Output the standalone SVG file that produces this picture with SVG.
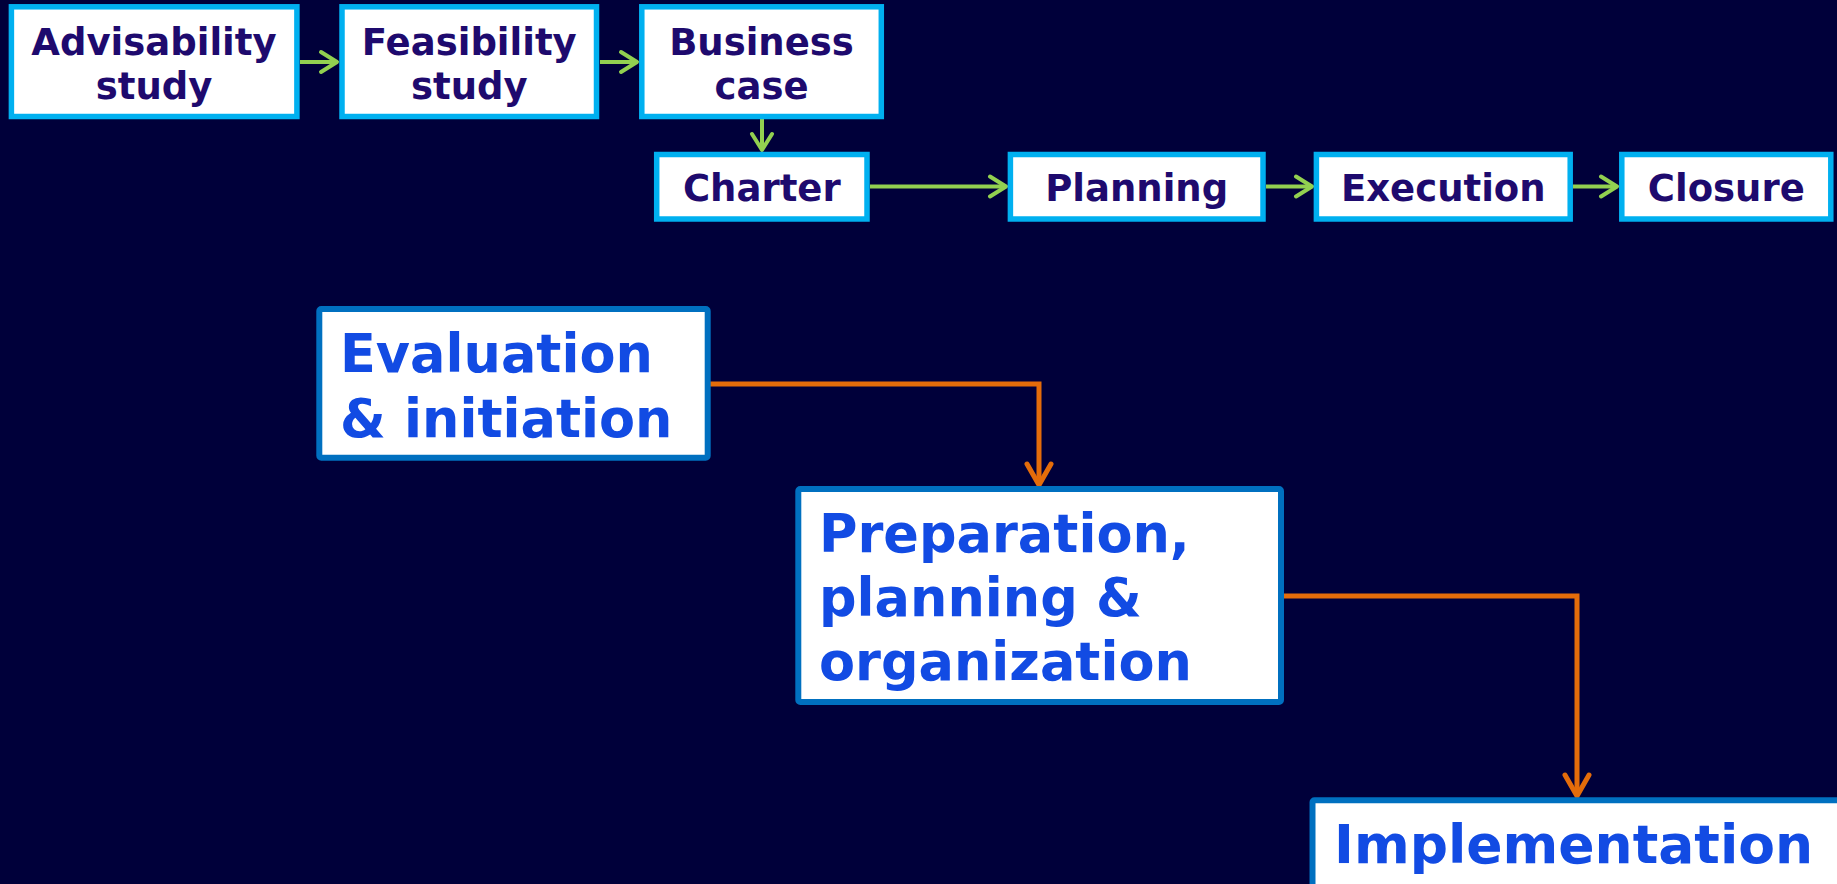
<svg xmlns="http://www.w3.org/2000/svg" width="1837" height="884" viewBox="0 0 1837 884">
<style>
.bg{fill:#00003A}
.top rect{fill:#fff;stroke:#00B0F0;stroke-width:5.5}
.top text{font-family:"DejaVu Sans",Verdana,sans-serif;font-weight:bold;font-size:37px;fill:#1E0A6E;text-anchor:middle}
.big rect{fill:#fff;stroke:#0070C0;stroke-width:6}
.big text{font-family:"DejaVu Sans",Verdana,sans-serif;font-weight:bold;font-size:52.5px;fill:#124BE3}
.g{fill:none;stroke:#92D050;stroke-width:4}
.o{fill:none;stroke:#E46C0A;stroke-width:5}
</style>
<defs>
<marker id="ag" viewBox="0 0 22 26" refX="19" refY="13" markerWidth="22" markerHeight="26" markerUnits="userSpaceOnUse" orient="auto">
<path d="M3,3 L19,13 L3,23" fill="none" stroke="#92D050" stroke-width="4" stroke-linecap="round" stroke-linejoin="round"/>
</marker>
<marker id="ao" viewBox="0 0 28 30" refX="24" refY="15" markerWidth="28" markerHeight="30" markerUnits="userSpaceOnUse" orient="auto">
<path d="M3,3 L24,15 L3,27" fill="none" stroke="#E46C0A" stroke-width="5" stroke-linecap="round" stroke-linejoin="round"/>
</marker>
</defs>
<rect class="bg" x="0" y="0" width="1837" height="884"/>
<g id="connectors">
<path class="g" d="M300,62 L337,62" marker-end="url(#ag)"/>
<path class="g" d="M600,62 L637,62" marker-end="url(#ag)"/>
<path class="g" d="M762,119 L762,150" marker-end="url(#ag)"/>
<path class="g" d="M870,186.5 L1006,186.5" marker-end="url(#ag)"/>
<path class="g" d="M1266,186.5 L1312,186.5" marker-end="url(#ag)"/>
<path class="g" d="M1573,186.5 L1617,186.5" marker-end="url(#ag)"/>
<path class="o" d="M710,384 L1039,384 L1039,485" marker-end="url(#ao)"/>
<path class="o" d="M1284,596 L1577,596 L1577,796" marker-end="url(#ao)"/>
</g>
<g id="advisability" class="top">
<rect x="11.4" y="6.8" width="285.5" height="109.7"/>
<text x="154" y="54.5">Advisability</text>
<text x="154" y="99">study</text>
</g>
<g id="feasibility" class="top">
<rect x="342" y="6.8" width="254.5" height="109.7"/>
<text x="469.3" y="54.5">Feasibility</text>
<text x="469.3" y="99">study</text>
</g>
<g id="business-case" class="top">
<rect x="641.8" y="6.8" width="239.5" height="109.7"/>
<text x="761.5" y="54.5">Business</text>
<text x="761.5" y="99">case</text>
</g>
<g id="charter" class="top">
<rect x="656.7" y="154.5" width="210.3" height="64.5"/>
<text x="761.8" y="201">Charter</text>
</g>
<g id="planning" class="top">
<rect x="1010.4" y="154.5" width="252.6" height="64.5"/>
<text x="1136.7" y="201">Planning</text>
</g>
<g id="execution" class="top">
<rect x="1316.4" y="154.5" width="253.8" height="64.5"/>
<text x="1443.3" y="201">Execution</text>
</g>
<g id="closure" class="top">
<rect x="1621.8" y="154.5" width="209" height="64.5"/>
<text x="1726.3" y="201">Closure</text>
</g>
<g id="evaluation" class="big">
<rect x="319.3" y="309" width="388.4" height="148.7" rx="2"/>
<text x="340" y="371.5">Evaluation</text>
<text x="340" y="436.5">&amp; initiation</text>
</g>
<g id="preparation" class="big">
<rect x="798.3" y="489" width="482.7" height="213" rx="2"/>
<text x="819" y="551.5">Preparation,</text>
<text x="819" y="616">planning &amp;</text>
<text x="819" y="680">organization</text>
</g>
<g id="implementation" class="big">
<rect x="1312.5" y="800.3" width="540" height="120" rx="2"/>
<text x="1334" y="862.5" style="font-size:53.5px">Implementation</text>
</g>
</svg>
